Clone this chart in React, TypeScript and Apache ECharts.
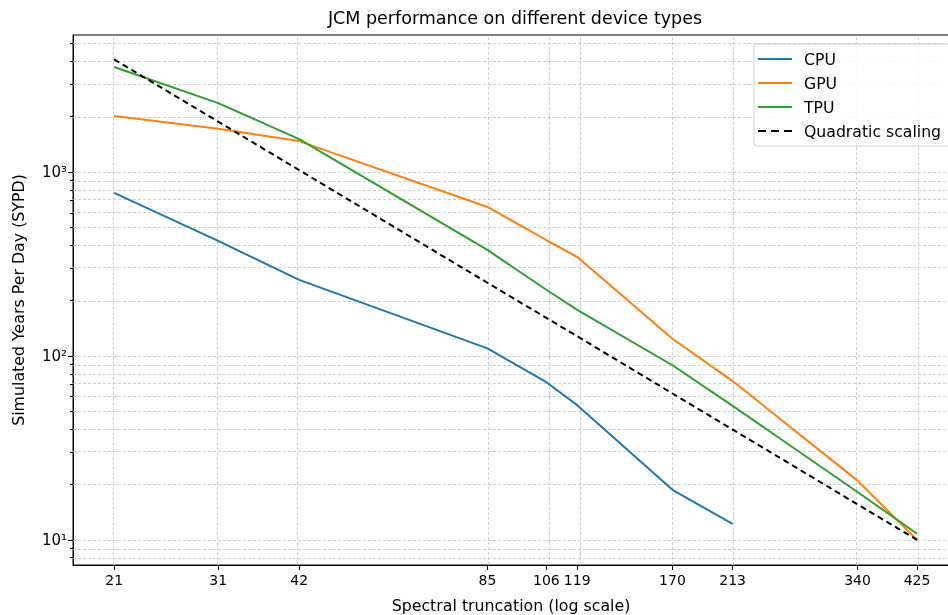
import React, { useEffect, useRef } from 'react';
import * as echarts from 'echarts';

const xTicks = [21, 31, 42, 85, 106, 119, 170, 213, 340, 425];
const cpuX = [21, 31, 42, 85, 106, 119, 170, 213];
const cpuY = [770, 422, 259, 110, 72, 54, 18.7, 12.2];
const gpuX = [21, 31, 42, 85, 106, 119, 170, 213, 340, 425];
const gpuY = [2015, 1720, 1473, 646, 427, 345, 124, 73, 21, 10];
const tpuX = [21, 31, 42, 85, 106, 119, 170, 213, 340, 425];
const tpuY = [3724, 2371, 1511, 377, 229, 178, 89, 53.5, 18.2, 10.8];
const quadX = [21, 31, 42, 85, 106, 119, 170, 213, 340, 425];
const quadY = [4096, 1880, 1024, 250, 161, 128, 62.5, 39.8, 15.6, 10];
const yMajor = [10, 100, 1000];
const yMinorMult = [2, 3, 4, 5, 6, 7, 8, 9];
const yDecades = [1, 10, 100, 1000];
const xRange = [18, 479];
const yRange = [7.3, 5560];

const L = Math.log10;
const FONT = 'DejaVu Sans';
const supMap: Record<string, string> = { '0': '⁰', '1': '¹', '2': '²', '3': '³', '4': '⁴' };
const SOLID_ICON = 'path://M0,0h34v2h-34z';
const DASH_ICON = 'path://M0,0h8v2h-8zM13,0h8v2h-8zM26,0h8v2h-8z';

export default function App() {
  const ref = useRef<HTMLDivElement>(null);
  useEffect(() => {
    if (!ref.current) return;
    const chart = echarts.init(ref.current, undefined, { renderer: 'svg' });
    const yMinor: number[] = [];
    yDecades.forEach((d) => yMinorMult.forEach((m) => {
      const v = d * m;
      if (v >= yRange[0] && v <= yRange[1]) yMinor.push(v);
    }));
    const pts = (xs: number[], ys: number[]) => xs.map((x, i) => [L(x), L(ys[i])]);
    const gridStyle = { type: [3, 2] as any, color: '#c4c4c4', width: 0.8 };
    const mk = (color: string, dashed = false) => ({
      type: 'line' as const,
      showSymbol: false,
      symbol: 'none',
      lineStyle: { color, width: 2, type: dashed ? ([6, 4] as any) : 'solid' },
      itemStyle: { color },
      z: 5,
    });
    chart.setOption({
      animation: false,
      textStyle: { fontFamily: FONT },
      title: {
        text: 'JCM performance on different device types',
        left: 510,
        textAlign: 'center',
        top: 4,
        textStyle: { fontFamily: FONT, fontSize: 17.5, fontWeight: 'normal', color: '#000' },
      },
      legend: {
        data: [
          { name: 'CPU', icon: SOLID_ICON },
          { name: 'GPU', icon: SOLID_ICON },
          { name: 'TPU', icon: SOLID_ICON },
          { name: 'Quadratic scaling', icon: DASH_ICON },
        ],
        orient: 'vertical',
        left: 754,
        top: 44,
        padding: [6, 12, 6, 4],
        itemWidth: 34,
        itemHeight: 2,
        itemGap: 6,
        symbolKeepAspect: false,
        textStyle: { fontFamily: FONT, fontSize: 15.7, color: '#000', lineHeight: 18, padding: [0, 0, 0, 7] },
        borderColor: '#d0d0d0',
        borderWidth: 1,
        borderRadius: 3,
        backgroundColor: 'rgba(255,255,255,0.85)',
        z: 20,
      },
      grid: {
        left: 73,
        top: 35,
        right: -1,
        bottom: 50,
        outerBoundsMode: 'none',
        containLabel: false,
        show: true,
        borderColor: '#000',
        borderWidth: 1,
        backgroundColor: 'transparent',
      },
      xAxis: {
        type: 'value',
        min: L(xRange[0]),
        max: L(xRange[1]),
        name: 'Spectral truncation (log scale)',
        nameLocation: 'middle',
        nameGap: 32,
        nameTextStyle: { fontFamily: FONT, fontSize: 15.8, color: '#000' },
        axisLine: { lineStyle: { color: '#000', width: 1 } },
        axisTick: { customValues: xTicks.map(L), length: 5, lineStyle: { color: '#000' } },
        axisLabel: {
          customValues: xTicks.map(L),
          formatter: (v: number) => String(Math.round(Math.pow(10, v))),
          fontFamily: FONT,
          fontSize: 14,
          color: '#000',
          margin: 8,
        },
        splitLine: { show: false },
      },
      yAxis: [
        {
          type: 'value',
          min: L(yRange[0]),
          max: L(yRange[1]),
          name: 'Simulated Years Per Day (SYPD)',
          nameLocation: 'middle',
          nameGap: 47,
          nameTextStyle: { fontFamily: FONT, fontSize: 15.8, color: '#000' },
          axisLine: { show: true, lineStyle: { color: '#000', width: 1 } },
          axisTick: { show: true, customValues: yMajor.map(L), length: 5, lineStyle: { color: '#000' } },
          axisLabel: {
            customValues: yMajor.map(L),
            formatter: (v: number) => '10' + String(Math.round(v)).split('').map((c) => supMap[c] || c).join(''),
            fontFamily: FONT,
            fontSize: 15,
            color: '#000',
            margin: 6,
          },
          splitLine: { show: false },
        },
        {
          type: 'value',
          min: L(yRange[0]),
          max: L(yRange[1]),
          position: 'left',
          axisLine: { show: false },
          axisTick: { show: true, customValues: yMinor.map(L), length: 3, lineStyle: { color: '#000' } },
          axisLabel: { show: false },
          splitLine: { show: false },
        },
      ],
      series: [
        {
          name: 'grid',
          type: 'line',
          data: [],
          silent: true,
          z: 1,
          markLine: {
            silent: true,
            symbol: 'none',
            animation: false,
            label: { show: false },
            emphasis: { disabled: true },
            lineStyle: gridStyle,
            data: [
              ...xTicks.map((v) => ({ xAxis: L(v) })),
              ...yMajor.map((v) => ({ yAxis: L(v) })),
              ...yMinor.map((v) => ({ yAxis: L(v) })),
            ],
          },
        },
        { name: 'CPU', data: pts(cpuX, cpuY), ...mk('#1f77b4') },
        { name: 'GPU', data: pts(gpuX, gpuY), ...mk('#ff7f0e') },
        { name: 'TPU', data: pts(tpuX, tpuY), ...mk('#2ca02c') },
        { name: 'Quadratic scaling', data: pts(quadX, quadY), ...mk('#000000', true) },
      ],
    });
    return () => chart.dispose();
  }, []);
  return <div ref={ref} style={{ position: 'fixed', left: 0, top: 0, width: 948, height: 615 }} />;
}
